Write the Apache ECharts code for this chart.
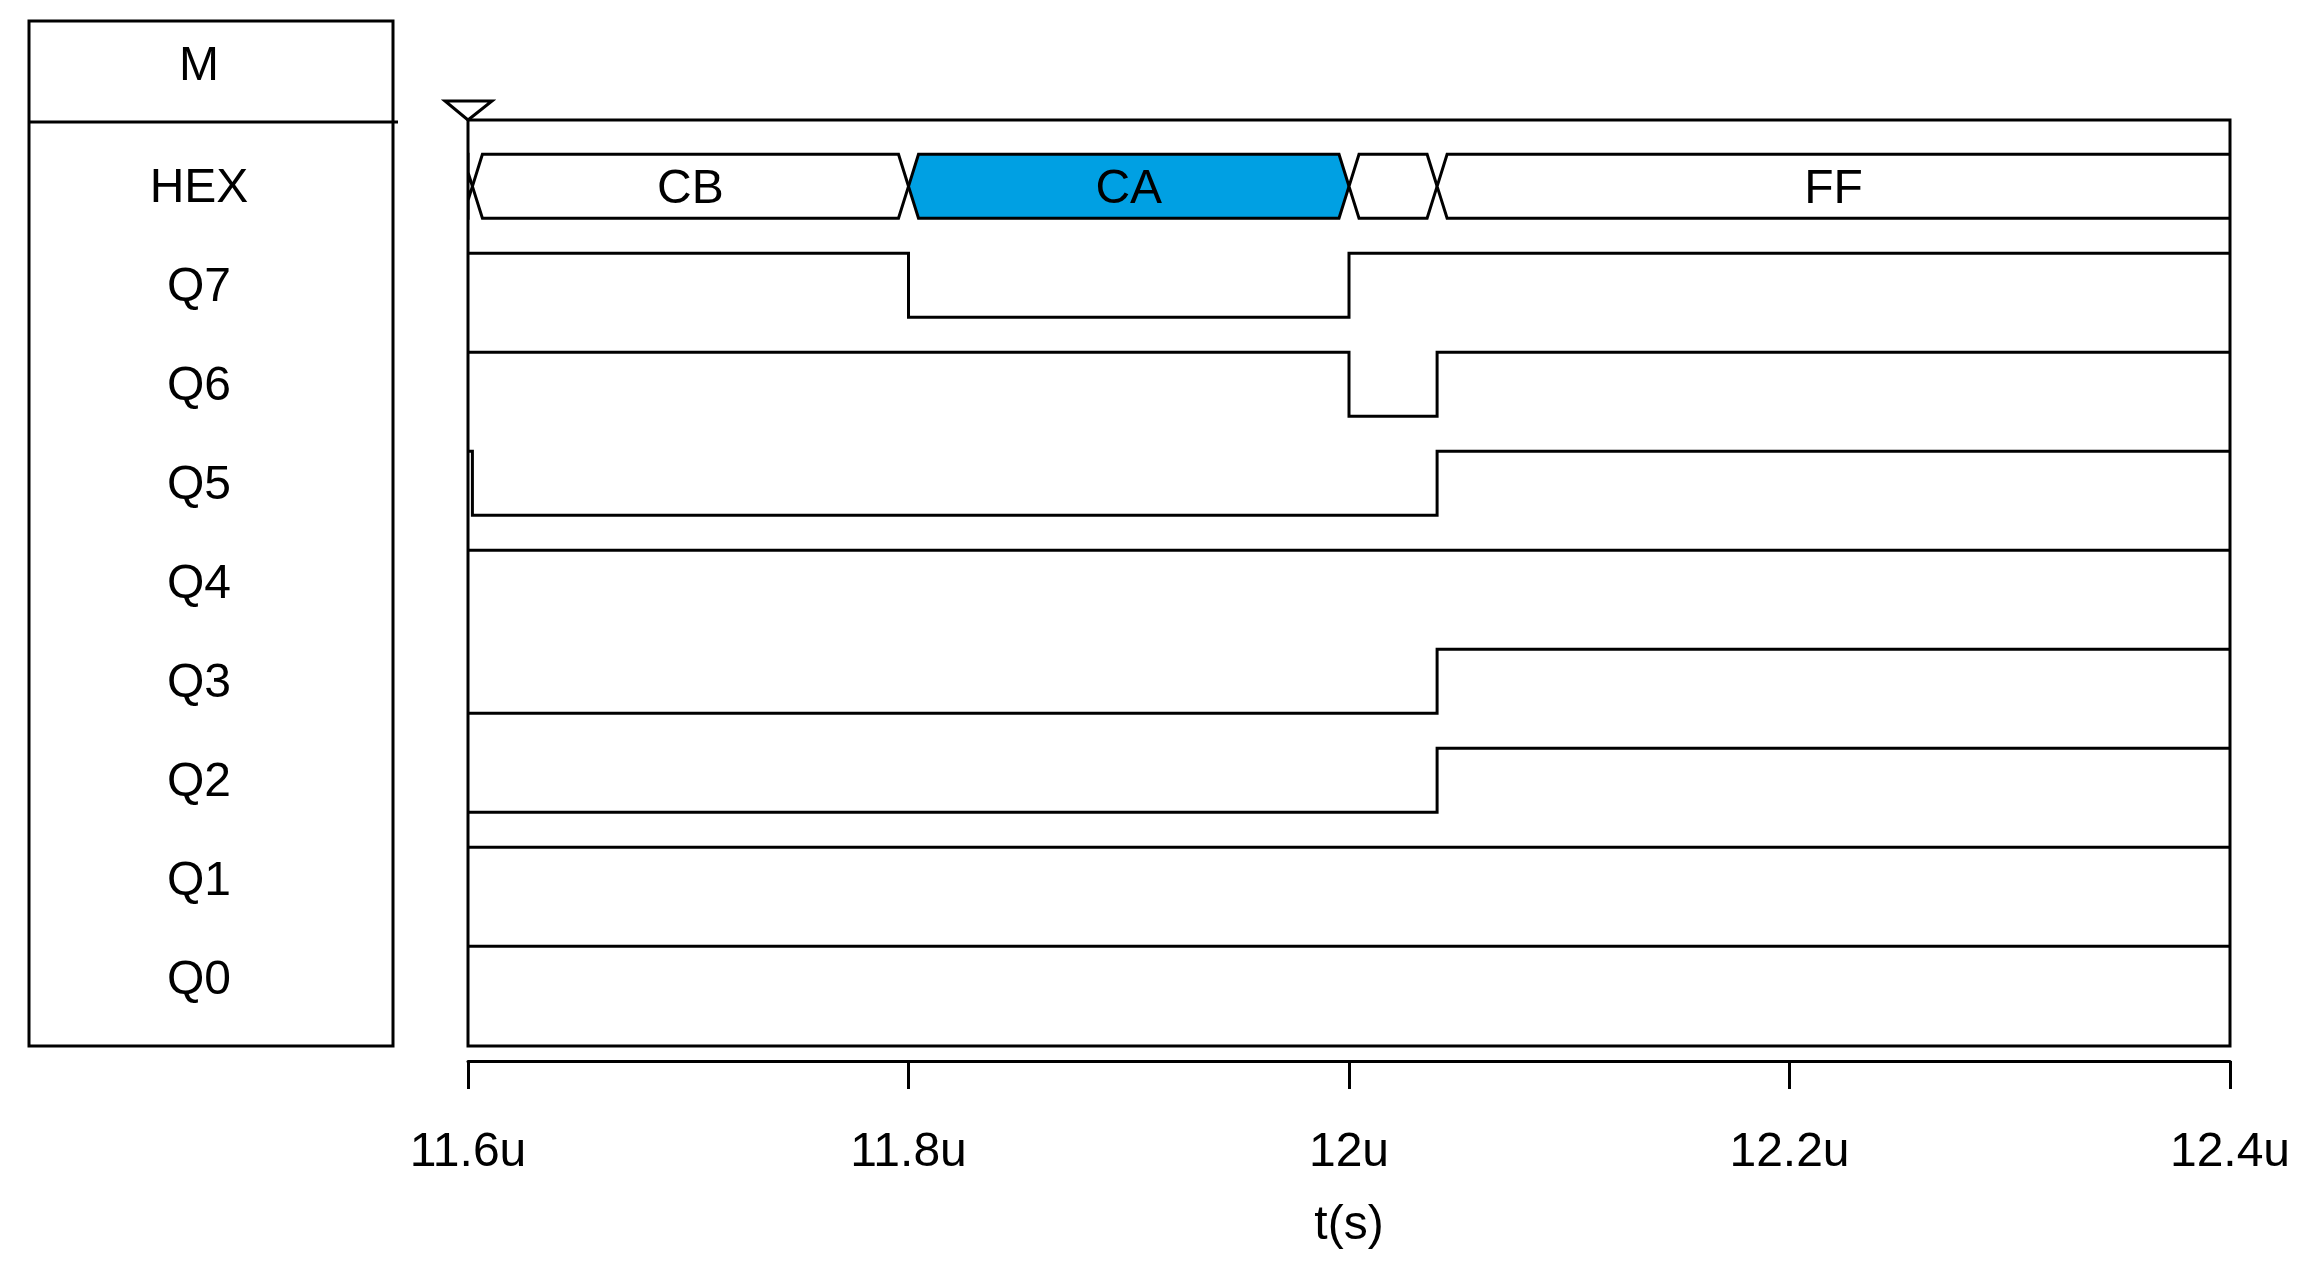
<!DOCTYPE html>
<html><head><meta charset="utf-8">
<script src="https://cdn.jsdelivr.net/npm/echarts@6/dist/echarts.min.js"></script>
<style>html,body{margin:0;padding:0;background:#fff}#c{width:2310px;height:1270px}</style>
</head><body><div id="c"></div>
<script>
// ---- data ----
const rowNames = ['HEX','Q7','Q6','Q5','Q4','Q3','Q2','Q1','Q0'];
const timeTicks = [11600, 11800, 12000, 12200, 12400];          // ns
const tickLabels = ['11.6u','11.8u','12u','12.2u','12.4u'];
const tStart = 11600, tEnd = 12400;
const busStarts = [11600, 11602, 11800, 12000, 12040];
const busValues = ['CF','CB','CA','C9','FF'];
const q7 = [[11600,1],[11800,0],[12000,1]];
const q6 = [[11600,1],[12000,0],[12040,1]];
const q5 = [[11600,1],[11602,0],[12040,1]];
const q4 = [[11600,1]];
const q3 = [[11600,0],[12040,1]];
const q2 = [[11600,0],[12040,1]];
const q1 = [[11600,1]];
const q0 = [[11600,1]];
const cursorTimes = [11600];
const highlightedValue = 'CA';

// ---- layout / style ----
const FONT = 'Liberation Sans';
const FS = 48;
const AMP = 0.323;       // half height of a trace, in rows
const YMIN = -0.67, YMAX = 8.684;
const LABEL_SHIFT = 0.025; // small downward nudge of row labels, in rows
const LW = 3;
const signals = [q7,q6,q5,q4,q3,q2,q1,q0];

function traceData(pairs, row) {
  const d = pairs.map(p => [p[0], row + (p[1] ? -AMP : AMP)]);
  const last = pairs[pairs.length - 1];
  d.push([tEnd, row + (last[1] ? -AMP : AMP)]);
  return d;
}

const busData = busStarts.map((s, i) => [s, i < busStarts.length - 1 ? busStarts[i + 1] : tEnd, 0, i]);

const series = [];
signals.forEach((sig, k) => {
  series.push({
    type: 'line', step: 'end', symbol: 'none', clip: true, silent: true,
    data: traceData(sig, k + 1),
    lineStyle: { color: '#000', width: LW, join: 'miter' }
  });
});

series.push({
  type: 'custom', clip: true, silent: true,
  data: busData,
  encode: { x: [0, 1], y: 2 },
  renderItem: function (params, api) {
    const ts = api.value(0), te = api.value(1), row = api.value(2), idx = api.value(3);
    const pTop = api.coord([ts, row - AMP]);
    const pBot = api.coord([te, row + AMP]);
    const mid = api.coord([ts, row])[1];
    const xs = pTop[0], xe = pBot[0], top = pTop[1], bot = pBot[1];
    const h = 10;
    const openL = ts <= tStart, openR = te >= tEnd;
    const pts = [];
    if (openL) { pts.push([xs, bot], [xs, top]); } else { pts.push([xs, mid], [xs + h, top]); }
    if (openR) { pts.push([xe, top], [xe, bot]); } else { pts.push([xe - h, top], [xe, mid], [xe - h, bot]); }
    if (!openL) pts.push([xs + h, bot]);
    const val = busValues[idx];
    const children = [{
      type: 'polygon', shape: { points: pts },
      style: { fill: val === highlightedValue ? '#00a0e3' : '#fff', stroke: '#000', lineWidth: LW, lineJoin: 'miter' }
    }];
    if (xe - xs > 150) {
      children.push({
        type: 'text', x: (xs + xe) / 2, y: mid + 3,
        style: { text: val, fill: '#000', font: FS + 'px ' + FONT, align: 'center', verticalAlign: 'middle' }
      });
    }
    return { type: 'group', children: children };
  }
});

series.push({
  type: 'custom', clip: false, silent: true,
  data: cursorTimes.map(t => [t, YMIN]),
  encode: { x: 0, y: 1 },
  renderItem: function (params, api) {
    const p = api.coord([api.value(0), api.value(1)]);
    return {
      type: 'polygon', z2: 10,
      shape: { points: [[p[0] - 23, p[1] - 19], [p[0] + 24, p[1] - 19], [p[0], p[1]]] },
      style: { fill: '#fff', stroke: '#000', lineWidth: LW }
    };
  }
});

const chart = echarts.init(document.getElementById('c'), null, { renderer: 'canvas' });
chart.setOption({
  animation: false,
  backgroundColor: '#fff',
  textStyle: { fontFamily: FONT },
  grid: { left: 468, right: 80, top: 120, bottom: 224, show: true, borderColor: '#000', borderWidth: LW, backgroundColor: 'transparent', containLabel: false },
  xAxis: {
    type: 'value', min: tStart, max: tEnd, interval: 200, offset: 15, position: 'bottom',
    axisLine: { show: true, onZero: false, lineStyle: { color: '#000', width: LW } },
    axisTick: { show: true, length: 28, lineStyle: { color: '#000', width: LW } },
    axisLabel: { color: '#000', fontSize: FS, fontFamily: FONT, margin: 68,
      formatter: v => { const i = timeTicks.indexOf(Math.round(v)); return i >= 0 ? tickLabels[i] : ''; } },
    splitLine: { show: false },
    name: 't(s)', nameLocation: 'middle', nameGap: 141,
    nameTextStyle: { color: '#000', fontSize: FS, fontFamily: FONT }
  },
  yAxis: {
    type: 'value', inverse: true, min: YMIN, max: YMAX,
    axisLine: { show: false }, axisTick: { show: false }, splitLine: { show: false },
    axisLabel: { show: true, customValues: rowNames.map((n, i) => i + LABEL_SHIFT), align: 'center', margin: 269,
      color: '#000', fontSize: FS, fontFamily: FONT,
      formatter: v => rowNames[Math.round(v)] }
  },
  graphic: [
    { type: 'rect', shape: { x: 29, y: 21, width: 364, height: 1025 }, style: { fill: 'none', stroke: '#000', lineWidth: LW } },
    { type: 'line', shape: { x1: 29, y1: 122, x2: 398, y2: 122 }, style: { stroke: '#000', lineWidth: LW } },
    { type: 'text', x: 199, y: 67, style: { text: 'M', fill: '#000', font: FS + 'px ' + FONT, align: 'center', verticalAlign: 'middle' } }
  ],
  series: series
});
</script></body></html>
